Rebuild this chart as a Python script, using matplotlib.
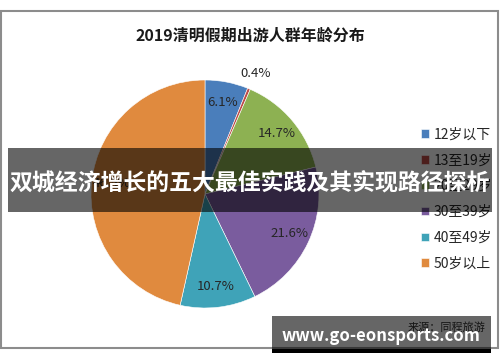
import matplotlib.pyplot as plt
import numpy as np
from matplotlib.patches import Rectangle

plt.rcParams['font.family'] = ['Noto Sans CJK SC', 'DejaVu Sans']

categories = ['12岁以下', '13至19岁', '20至29岁', '30至39岁', '40至49岁', '50岁以上']
shares = [6.1, 0.4, 14.7, 21.6, 10.7, 46.5]
colors = ['#4A7EBB', '#BE4B48', '#8DB152', '#7A5C9E', '#3FA3B8', '#E08A3E']

W, H = 500, 362
fig = plt.figure(figsize=(W / 100, H / 100), dpi=100)


def px(x0, y0, x1, y1):
    # pixel box (top-left origin) -> figure fraction rectangle
    return (x0 / W, 1 - y1 / H), (x1 - x0) / W, (y1 - y0) / H


# chart frame
xy, w, h = px(1, 11, 498, 348)
fig.patches.append(Rectangle(xy, w, h, transform=fig.transFigure,
                             fill=False, edgecolor='#8c8c8c', lw=1.5, zorder=1))

fig.text(0.5, 1 - 36 / H, '2019清明假期出游人群年龄分布', ha='center', va='center',
         fontsize=11.5, fontweight='bold', color='#1a1a1a')

cx, cy, r = 205, 194, 114
ax = fig.add_axes([(cx - r) / W, 1 - (cy + r) / H, 2 * r / W, 2 * r / H])
wedges, _ = ax.pie(shares, colors=colors, startangle=90, counterclock=False,
                   wedgeprops=dict(edgecolor='white', linewidth=0.4))
ax.set_xlim(-1, 1)
ax.set_ylim(-1, 1)
ax.set_aspect('equal')

start = 90.0
for s in shares:
    mid = np.deg2rad(start - s * 3.6 / 2)
    start -= s * 3.6
    d = 1.15 if s < 1 else 0.82
    ax.text(d * np.cos(mid), d * np.sin(mid), f'{s}%', ha='center', va='center',
            fontsize=9.5, color='#262626')

fig.legend(wedges, categories, loc='center left', bbox_to_anchor=(414 / W, 1 - 199 / H),
           frameon=False, fontsize=10, handlelength=0.55, handleheight=0.55,
           handletextpad=0.35, labelspacing=0.85, borderpad=0, labelcolor='#262626')

# banner overlay
xy, w, h = px(8, 148, 492, 212)
fig.patches.append(Rectangle(xy, w, h, transform=fig.transFigure,
                             facecolor='black', alpha=0.6, lw=0, zorder=10))
fig.text(0.5, 1 - 183 / H, '双城经济增长的五大最佳实践及其实现路径探析', ha='center', va='center',
         fontsize=16.5, fontweight='bold', color='white', zorder=11)

# source + watermark box
fig.text(485 / W, 1 - 327 / H, '来源：同程旅游', ha='right', va='center',
         fontsize=8, color='#333333', zorder=2)
xy, w, h = px(272, 316, 491, 349)
fig.patches.append(Rectangle(xy, w, h, transform=fig.transFigure,
                             facecolor='black', alpha=0.6, lw=0, zorder=10))
xy, w, h = px(272, 349, 491, 353)
fig.patches.append(Rectangle(xy, w, h, transform=fig.transFigure,
                             facecolor='black', lw=0, zorder=10))
fig.text(381 / W, 1 - 336 / H, 'www.go-eonsports.com', ha='center', va='center',
         fontsize=12, fontweight='bold', color='white', zorder=11)

fig.savefig('out.png', dpi=100)
